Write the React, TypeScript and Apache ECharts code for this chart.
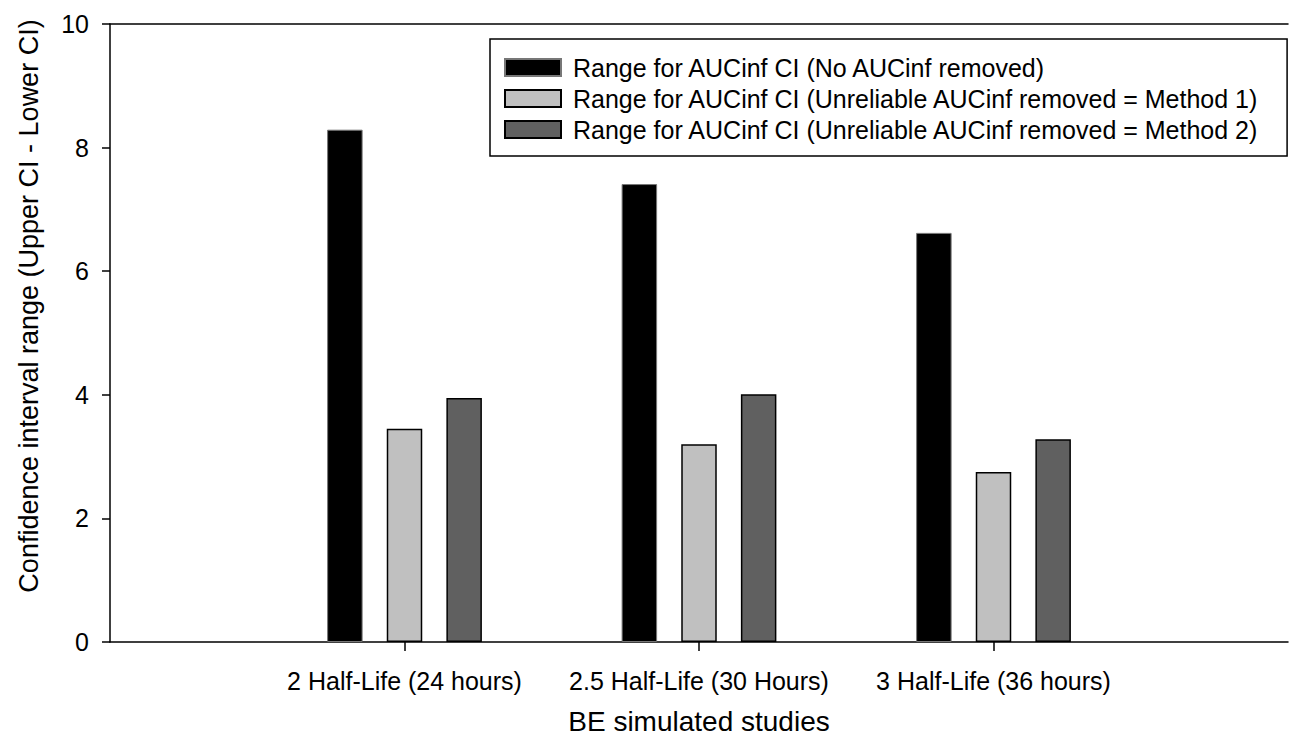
import React, { useEffect, useRef } from "react";
import * as echarts from "echarts";

// Study designs (category axis), padded with blank slots at both ends of the axis
const studies = ["2 Half-Life (24 hours)", "2.5 Half-Life (30 Hours)", "3 Half-Life (36 hours)"];

const seriesNames = [
  "Range for AUCinf CI (No AUCinf removed)",
  "Range for AUCinf CI (Unreliable AUCinf removed = Method 1)",
  "Range for AUCinf CI (Unreliable AUCinf removed = Method 2)",
];

// Confidence interval range (Upper CI - Lower CI)
const noneRemoved = [8.29, 7.41, 6.62];
const method1 = [3.45, 3.2, 2.75];
const method2 = [3.95, 4.01, 3.28];

const yTicks = [0, 2, 4, 6, 8, 10];

const yTitle = "Confidence interval range (Upper CI - Lower CI)";
const xTitle = "BE simulated studies";

const FONT = "'Liberation Sans', Arial, sans-serif";

const pad = (arr: (number | string)[], blank: any) => [blank, ...arr, blank];

export default function App() {
  const ref = useRef<HTMLDivElement>(null);

  useEffect(() => {
    if (!ref.current) return;
    const chart = echarts.init(ref.current, undefined, { renderer: "svg" });

    const fills = ["#000000", "#c0c0c0", "#606060"];
    const borders = ["#777777", "#000000", "#000000"];
    const values = [noneRemoved, method1, method2];

    chart.setOption({
      animation: false,
      backgroundColor: "#ffffff",
      textStyle: { fontFamily: FONT, color: "#000" },
      grid: {
        left: 110,
        top: 24,
        bottom: 97,
        right: -13,
        show: false,
      },
      legend: {
        orient: "vertical",
        left: 490,
        top: 39,
        padding: [16, 27, 14, 14],
        borderColor: "#000",
        borderWidth: 1.5,
        itemWidth: 56,
        itemHeight: 17,
        itemGap: 6,
        icon: "rect",
        selectedMode: false,
        textStyle: {
          fontFamily: FONT,
          fontSize: 25,
          lineHeight: 25,
          color: "#000",
          padding: [0, 0, 0, 7],
        },
        data: seriesNames,
      },
      graphic: [
        {
          type: "text",
          x: 29,
          y: 306,
          rotation: Math.PI / 2,
          style: {
            text: yTitle,
            fontFamily: FONT,
            fontSize: 27,
            fill: "#000",
            textAlign: "center",
            textVerticalAlign: "middle",
          },
        },
      ],
      xAxis: [
        {
          type: "category",
          boundaryGap: false,
          data: pad(studies, ""),
          axisLine: { lineStyle: { color: "#000", width: 1.5 } },
          axisTick: {
            show: true,
            length: 9,
            interval: (i: number) => i > 0 && i <= studies.length,
            lineStyle: { color: "#000", width: 1.5 },
          },
          axisLabel: {
            interval: 0,
            fontFamily: FONT,
            fontSize: 25,
            color: "#000",
            margin: 26,
          },
          splitLine: { show: false },
          name: xTitle,
          nameLocation: "middle",
          nameGap: 65,
          nameTextStyle: { fontFamily: FONT, fontSize: 28, color: "#000" },
        },
        {
          // frame line along the top of the plot
          type: "category",
          position: "top",
          boundaryGap: false,
          data: pad(studies, ""),
          axisLine: { show: true, lineStyle: { color: "#000", width: 1.5 } },
          axisTick: { show: false },
          axisLabel: { show: false },
        },
      ],
      yAxis: {
        type: "value",
        min: 0,
        max: 10,
        interval: 2,
        axisLine: { show: true, lineStyle: { color: "#000", width: 1.5 } },
        axisTick: { show: true, length: 8, lineStyle: { color: "#000", width: 1.5 } },
        axisLabel: {
          fontFamily: FONT,
          fontSize: 25,
          color: "#000",
          margin: 21,
          formatter: (v: number) => (yTicks.includes(v) ? String(v) : ""),
        },
        splitLine: { show: false },
      },
      series: values.map((vals, k) => ({
        name: seriesNames[k],
        type: "bar",
        xAxisIndex: 0,
        data: pad(vals, null),
        barWidth: 35.5,
        barGap: "68%",
        itemStyle: {
          color: fills[k],
          borderColor: borders[k],
          borderWidth: k === 0 ? 1 : 1.5,
        },
      })),
    });

    return () => chart.dispose();
  }, []);

  return (
    <div
      ref={ref}
      style={{ position: "absolute", left: 0, top: 0, width: 1291, height: 740 }}
    />
  );
}
